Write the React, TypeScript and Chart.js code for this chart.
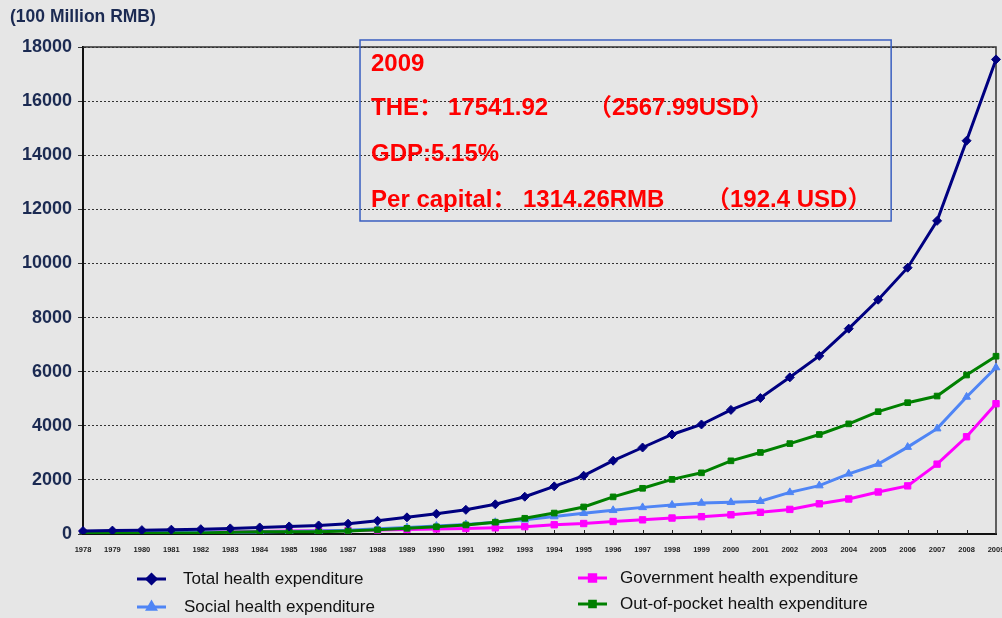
import React, { useEffect, useRef } from 'react';
import { Chart, registerables } from 'chart.js';
import { drawPoint } from 'chart.js/helpers';

Chart.register(...registerables);

const years: string[] = [
  '1978', '1979', '1980', '1981', '1982', '1983', '1984', '1985', '1986', '1987', '1988',
  '1989', '1990', '1991', '1992', '1993', '1994', '1995', '1996', '1997', '1998', '1999',
  '2000', '2001', '2002', '2003', '2004', '2005', '2006', '2007', '2008', '2009',
];

const totalHE: number[] = [
  110, 126, 143, 160, 178, 207, 242, 279, 316, 380, 488, 616, 747, 893, 1097, 1378,
  1761, 2155, 2709, 3197, 3679, 4048, 4587, 5026, 5790, 6584, 7590, 8660, 9843, 11574,
  14535, 17542,
];

const govHE: number[] = [
  35, 41, 52, 60, 69, 78, 89, 108, 122, 127, 145, 168, 187, 204, 229, 272, 342, 387,
  462, 524, 590, 641, 710, 801, 909, 1117, 1294, 1553, 1779, 2582, 3594, 4816,
];

const socialHE: number[] = [
  52, 60, 61, 62, 70, 65, 74, 92, 110, 137, 190, 238, 293, 354, 432, 525, 645, 768,
  876, 984, 1071, 1146, 1172, 1211, 1539, 1789, 2225, 2586, 3211, 3894, 5066, 6154,
];

const oopHE: number[] = [
  23, 26, 30, 38, 38, 65, 79, 79, 83, 115, 153, 210, 267, 335, 437, 581, 774, 1000,
  1372, 1689, 2018, 2261, 2705, 3014, 3342, 3679, 4071, 4521, 4854, 5099, 5876, 6571,
];

const seriesNames: string[] = [
  'Total health expenditure',
  'Government health expenditure',
  'Social health expenditure',
  'Out-of-pocket health expenditure',
];

const yMax = 18000;
const yStep = 2000;
const unitLabel = '(100 Million RMB)';

// annotation: each line is a list of text runs
const noteLines: string[][] = [
  ['2009'],
  ['THE：', '17541.92', '（2567.99USD）'],
  ['GDP:5.15%'],
  ['Per capital：', '1314.26RMB', '（192.4 USD）'],
];

const FONT = '"Liberation Sans", Arial, "Noto Sans CJK SC", sans-serif';

const framePlugin = {
  id: 'frame',
  beforeDatasetsDraw(chart: any) {
    const { ctx, chartArea } = chart;
    ctx.save();
    ctx.strokeStyle = '#333';
    ctx.lineWidth = 1.5;
    ctx.beginPath();
    ctx.moveTo(chartArea.left, chartArea.top);
    ctx.lineTo(chartArea.right, chartArea.top);
    ctx.lineTo(chartArea.right, chartArea.bottom);
    ctx.stroke();
    // small inward tick marks on the x axis
    const xs = chart.scales.x;
    ctx.strokeStyle = '#222';
    ctx.lineWidth = 1;
    ctx.beginPath();
    for (let i = 1; i < years.length - 1; i++) {
      const px = Math.round(xs.getPixelForValue(i)) + 0.5;
      ctx.moveTo(px, chartArea.bottom);
      ctx.lineTo(px, chartArea.bottom - 4);
    }
    ctx.stroke();
    ctx.restore();
  },
  afterDraw(chart: any) {
    const { ctx } = chart;
    ctx.save();
    ctx.fillStyle = '#1b2a52';
    ctx.font = `bold 17.5px ${FONT}`;
    ctx.textBaseline = 'middle';
    ctx.textAlign = 'left';
    ctx.fillText(unitLabel, 10, 17);
    ctx.restore();
  },
};

const notePlugin = {
  id: 'note',
  afterDraw(chart: any) {
    const { ctx } = chart;
    const xs = chart.scales.x;
    const ys = chart.scales.y;
    const left = xs.getPixelForValue(9.406);
    const right = xs.getPixelForValue(27.44);
    const top = ys.getPixelForValue(18259);
    const bottom = ys.getPixelForValue(11569);
    ctx.save();
    ctx.strokeStyle = '#3a5fc0';
    ctx.lineWidth = 1.5;
    ctx.strokeRect(left, top, right - left, bottom - top);
    ctx.fillStyle = '#ff0000';
    ctx.font = `bold 24px ${FONT}`;
    ctx.textBaseline = 'middle';
    ctx.textAlign = 'left';
    const rowY = [64, 108, 154, 200];
    const runX = [
      [0],
      [0, 77, 217],
      [0],
      [0, 152, 335],
    ];
    noteLines.forEach((runs, i) => {
      runs.forEach((t, j) => {
        ctx.fillText(t, left + 11 + runX[i][j], rowY[i]);
      });
    });
    ctx.restore();
  },
};

const legendPlugin = {
  id: 'customLegend',
  afterDraw(chart: any) {
    const { ctx } = chart;
    const slots = [
      { x: 137, y: 579, tx: 183 },
      { x: 578, y: 578, tx: 620 },
      { x: 137, y: 607, tx: 184 },
      { x: 578, y: 604, tx: 620 },
    ];
    const ds = chart.data.datasets;
    ctx.save();
    ds.forEach((d: any) => {
      const idx = seriesNames.indexOf(d.label);
      const s = slots[idx];
      ctx.strokeStyle = d.borderColor;
      ctx.lineWidth = 3;
      ctx.beginPath();
      ctx.moveTo(s.x, s.y);
      ctx.lineTo(s.x + 29, s.y);
      ctx.stroke();
      ctx.fillStyle = d.pointBackgroundColor;
      ctx.strokeStyle = d.pointBorderColor;
      drawPoint(ctx, { pointStyle: d.pointStyle, radius: d.pointRadius, rotation: 0, borderWidth: 1 }, s.x + 14.5, s.y);
      ctx.fillStyle = '#111';
      ctx.font = `17px ${FONT}`;
      ctx.textBaseline = 'middle';
      ctx.textAlign = 'left';
      ctx.fillText(d.label, s.tx, s.y);
    });
    ctx.restore();
  },
};

function series(label: string, data: number[], color: string, style: string, radius: number, order: number) {
  return {
    label,
    data,
    borderColor: color,
    backgroundColor: color,
    pointBackgroundColor: color,
    pointBorderColor: color,
    pointStyle: style,
    pointRadius: radius,
    pointBorderWidth: 1,
    borderWidth: 3,
    tension: 0,
    fill: false,
    order,
  };
}

export default function App() {
  const ref = useRef<HTMLCanvasElement>(null);
  useEffect(() => {
    document.body.style.margin = '0';
    const canvas = ref.current!;
    const chart = new Chart(canvas, {
      type: 'line',
      data: {
        labels: years,
        datasets: [
          series(seriesNames[0], totalHE, '#000080', 'rectRot', 4.5, 0),
          series(seriesNames[1], govHE, '#ff00ff', 'rect', 4.5, 3),
          series(seriesNames[2], socialHE, '#4f85f5', 'triangle', 4.5, 2),
          series(seriesNames[3], oopHE, '#008000', 'rect', 4, 1),
        ] as any,
      },
      options: {
        animation: false,
        responsive: false,
        layout: { padding: { left: 0, right: 6, top: 47, bottom: 58 } },
        plugins: {
          legend: { display: false },
          tooltip: { enabled: false },
          title: { display: false },
        },
        scales: {
          x: {
            offset: false,
            grid: { display: false, drawTicks: false },
            border: { color: '#111', width: 2 },
            ticks: {
              autoSkip: false,
              maxRotation: 0,
              minRotation: 0,
              padding: 11,
              color: '#222',
              font: { family: FONT, size: 7.5, weight: 'bold' },
            },
            afterFit: (s: any) => {
              s.height = 26;
              s.paddingLeft = 0;
              s.paddingRight = 0;
            },
          },
          y: {
            min: 0,
            max: yMax,
            ticks: {
              stepSize: yStep,
              padding: 6,
              color: '#1b2a52',
              font: { family: FONT, size: 18, weight: 'bold' },
              callback: (v: any) => String(v),
            },
            grid: { color: '#333', lineWidth: 1, tickLength: 5 },
            border: { color: '#111', width: 2, dash: [2, 2] },
            afterFit: (s: any) => {
              s.width = 83;
              s.paddingTop = 0;
              s.paddingBottom = 0;
            },
          },
        },
      } as any,
      plugins: [framePlugin, notePlugin, legendPlugin],
    });
    return () => chart.destroy();
  }, []);
  return (
    <div style={{ width: 1002, height: 618, background: '#e6e6e6', position: 'relative' }}>
      <canvas ref={ref} width={1002} height={618} style={{ display: 'block' }} />
    </div>
  );
}
